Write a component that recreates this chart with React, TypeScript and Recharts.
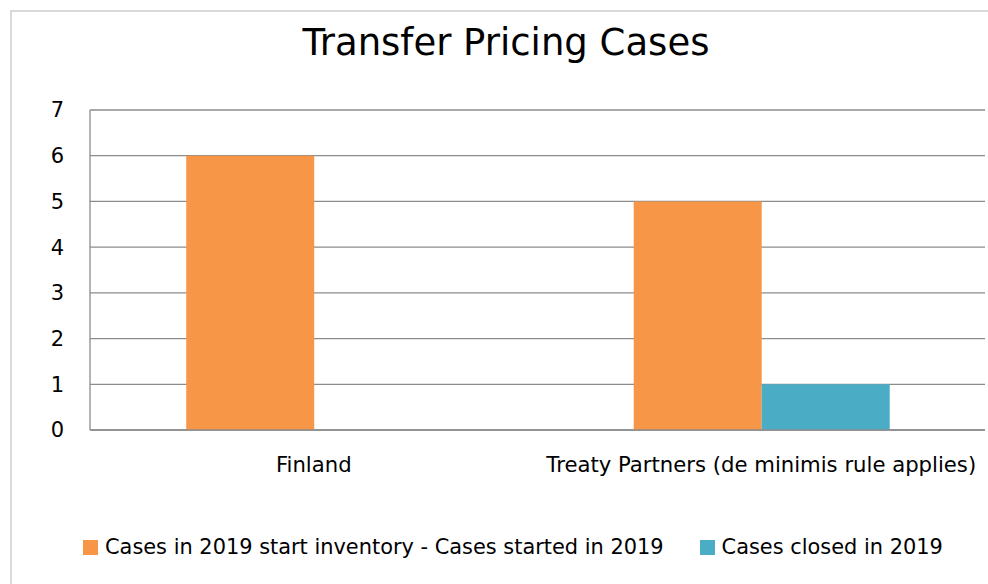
import React from 'react';
import { BarChart, Bar, XAxis, YAxis, CartesianGrid, Legend } from 'recharts';

const categories = ['Finland', 'Treaty Partners (de minimis rule applies)'];
const inventoryCases = [6, 5];
const closedCases = [0, 1];
const yTicks = [0, 1, 2, 3, 4, 5, 6, 7];
const seriesNames = ['Cases in 2019 start inventory - Cases started in 2019', 'Cases closed in 2019'];
const seriesColors = ['#F79646', '#4BACC6'];
const title = 'Transfer Pricing Cases';

const data = categories.map((c, i) => ({ name: c, inventory: inventoryCases[i], closed: closedCases[i] }));

const FONT = '"DejaVu Sans", sans-serif';

const LegendContent = () => (
  <div style={{ display: 'flex', alignItems: 'center', height: 30, paddingLeft: 83, fontFamily: FONT, fontSize: 20.9, lineHeight: '30px', color: '#000', whiteSpace: 'nowrap' }}>
    {seriesNames.map((n, i) => (
      <div key={n} style={{ display: 'flex', alignItems: 'center', marginRight: 36 }}>
        <div style={{ width: 15, height: 15, background: seriesColors[i], marginRight: 7 }} />
        <span>{n}</span>
      </div>
    ))}
  </div>
);

export default function App() {
  return (
    <div style={{ position: 'absolute', left: 0, top: 0, width: 988, height: 584, overflow: 'hidden', background: '#fff' }}>
      <div style={{ position: 'absolute', left: 10, top: 10, width: 1100, height: 700, border: '2px solid #d9d9d9' }} />
      <svg width={988} height={584} style={{ position: 'absolute', left: 0, top: 0 }}>
        <text x={506} y={55} textAnchor="middle" fontFamily={FONT} fontSize={37} fill="#000">{title}</text>
      </svg>
      <div style={{ position: 'absolute', left: 0, top: 0 }}>
        <BarChart width={988} height={584} data={data} margin={{ top: 110, right: 3, left: 0, bottom: 22 }} barCategoryGap="21.5%" barGap={0}>
          <CartesianGrid vertical={false} stroke="#8c8c8c" strokeWidth={1.3} />
          <XAxis dataKey="name" height={102} axisLine={{ stroke: '#8c8c8c', strokeWidth: 1.3 }} tickLine={false} tickSize={0} tickMargin={27} tick={{ fontFamily: FONT, fontSize: 21.2, fill: '#000' }} interval={0} />
          <YAxis width={90} domain={[0, 7]} ticks={yTicks} interval={0} axisLine={{ stroke: '#8c8c8c', strokeWidth: 1.3 }} tickLine={false} tickSize={0} tickMargin={26} tick={{ fontFamily: FONT, fontSize: 21, fill: '#000' }} />
          <Legend verticalAlign="bottom" align="left" content={<LegendContent />} />
          <Bar dataKey="inventory" name={seriesNames[0]} fill={seriesColors[0]} isAnimationActive={false} />
          <Bar dataKey="closed" name={seriesNames[1]} fill={seriesColors[1]} isAnimationActive={false} />
        </BarChart>
      </div>
    </div>
  );
}
